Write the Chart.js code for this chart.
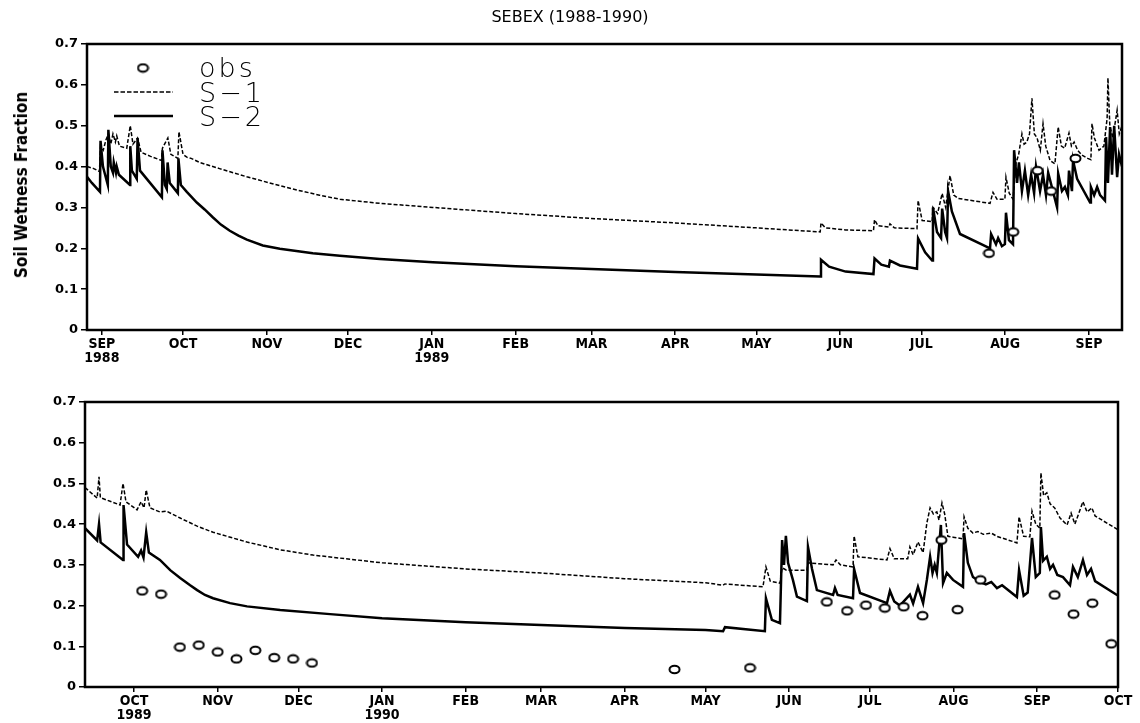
<!DOCTYPE html>
<html>
<head>
<meta charset="utf-8">
<script src="https://cdn.jsdelivr.net/npm/chart.js@4.4.0/dist/chart.umd.min.js"></script>
<style>
  body { margin: 0; background: #fff; }
  #page { position: relative; width: 1140px; height: 723px; overflow: hidden; font-family: "DejaVu Sans", sans-serif; }
  #title { position: absolute; left: 0; top: 7px; width: 1140px; text-align: center; font-size: 16px; color: #000; }
  #ylabel { position: absolute; left: 21px; top: 185px; transform: translate(-50%, -50%) rotate(-90deg);
            font: bold 17px "DejaVu Sans Condensed", "DejaVu Sans", sans-serif; white-space: nowrap; }
  .lg { position: absolute; left: 199px; font: 200 27px "DejaVu Sans", sans-serif; line-height: 27px;
        letter-spacing: 3px; white-space: nowrap; }
  canvas { position: absolute; left: 0; }
</style>
</head>
<body>
<div id="page">
  <canvas id="topChart" width="1140" height="365" style="top:0"></canvas>
  <canvas id="botChart" width="1140" height="358" style="top:365px"></canvas>
  <div id="title">SEBEX (1988-1990)</div>
  <div id="ylabel">Soil Wetness Fraction</div>
  <div class="lg" style="top:54px">obs</div>
  <div class="lg" style="top:79px">S−1</div>
  <div class="lg" style="top:103px">S−2</div>
</div>
<script>
// x values are days counted from 1 Sep 1988
const topTicks = ["1988-09", "1988-10", "1988-11", "1988-12", "1989-01", "1989-02", "1989-03",
  "1989-04", "1989-05", "1989-06", "1989-07", "1989-08", "1989-09"];
const topTickLabels = [["SEP", "1988"], "OCT", "NOV", "DEC", ["JAN", "1989"], "FEB", "MAR",
  "APR", "MAY", "JUN", "JUL", "AUG", "SEP"];
const botTicks = ["1989-10", "1989-11", "1989-12", "1990-01", "1990-02", "1990-03", "1990-04",
  "1990-05", "1990-06", "1990-07", "1990-08", "1990-09", "1990-10"];
const botTickLabels = [["OCT", "1989"], "NOV", "DEC", ["JAN", "1990"], "FEB", "MAR", "APR",
  "MAY", "JUN", "JUL", "AUG", "SEP", "OCT"];

const topObs = [[328, 0.188], [337, 0.24], [346, 0.39], [351, 0.34], [360, 0.42]];

const topS1 = [[-5.5, 0.40], [-3, 0.395], [-0.9, 0.388], [-0.5, 0.45], [0.5, 0.44], [1.5, 0.465],
  [2.4, 0.48], [3.3, 0.455], [4.1, 0.48], [5, 0.46], [5.5, 0.475], [6.5, 0.45], [9.2, 0.445],
  [10.5, 0.50], [11.5, 0.455], [13.2, 0.47], [14.5, 0.435], [18, 0.425], [22, 0.415],
  [22.4, 0.445], [24.4, 0.47], [25.5, 0.43], [28.1, 0.42], [28.5, 0.485], [30, 0.43],
  [31.4, 0.423], [33, 0.42], [36.2, 0.41], [43.5, 0.395], [53.6, 0.375], [62, 0.36],
  [70.6, 0.345], [80.5, 0.33], [88, 0.32], [102.8, 0.31], [122.4, 0.30], [153, 0.285],
  [181, 0.273], [212, 0.262], [242, 0.25], [265.6, 0.24], [265.9, 0.262], [267.5, 0.25],
  [275, 0.245], [285.3, 0.243], [285.7, 0.27], [287, 0.255], [291, 0.252], [291.4, 0.26],
  [293, 0.25], [301.4, 0.248],
  [301.8, 0.317], [303.3, 0.268], [307, 0.265], [307.3, 0.30], [309, 0.285], [310.7, 0.334],
  [312, 0.30], [313.6, 0.378], [315, 0.33], [316.6, 0.322], [328.4, 0.31], [329.5, 0.337],
  [331, 0.32], [333.9, 0.32], [334.3, 0.374], [335.5, 0.335], [336.9, 0.32], [338, 0.408],
  [339, 0.43], [340.2, 0.48], [341, 0.455], [342, 0.46], [343, 0.48], [343.9, 0.567],
  [344.8, 0.48], [345.8, 0.47], [347, 0.44], [348, 0.505], [349, 0.45], [350.6, 0.415],
  [352.4, 0.407], [353.6, 0.497], [354.8, 0.45], [356, 0.445], [357.6, 0.482], [358.5, 0.45],
  [359.5, 0.46], [360.8, 0.44], [362.4, 0.428], [364.5, 0.42], [365.7, 0.417], [366.1, 0.505],
  [367, 0.47], [368.7, 0.44], [370.5, 0.45], [371.7, 0.518], [372, 0.617], [372.7, 0.50],
  [373.8, 0.47], [375.4, 0.538], [376.2, 0.48], [377.2, 0.50]];

const topS2 = [[-5.5, 0.375], [-3.7, 0.36], [-0.7, 0.338], [-0.5, 0.463], [0.4, 0.40],
  [2.2, 0.355], [2.4, 0.49], [3.3, 0.40], [4.1, 0.385], [4.4, 0.41], [5.2, 0.385], [5.5, 0.40],
  [6.3, 0.38], [10.4, 0.355], [10.5, 0.45], [11.1, 0.39], [12.9, 0.37], [13.2, 0.47],
  [14.1, 0.39], [22.2, 0.325], [22.4, 0.44], [23.3, 0.355], [24, 0.345], [24.3, 0.41],
  [25.1, 0.36], [28.1, 0.335], [28.3, 0.42], [29.2, 0.355], [31.4, 0.338], [35.1, 0.312],
  [38, 0.295], [41, 0.276], [44, 0.258], [47.3, 0.243], [50.5, 0.231], [53.6, 0.221],
  [59.5, 0.207], [65.8, 0.199], [78, 0.188], [88, 0.182],
  [102.8, 0.174], [122.4, 0.166], [153, 0.156], [181, 0.149], [212, 0.142],
  [242, 0.136], [265.6, 0.131], [265.9, 0.172], [268.9, 0.155], [275, 0.143], [285.3, 0.137],
  [285.7, 0.175], [288.2, 0.16], [291, 0.155], [291.4, 0.17], [295.1, 0.158], [301.4, 0.15],
  [301.8, 0.224], [304.4, 0.19],
  [307, 0.17], [307.3, 0.30], [308.8, 0.24], [310.3, 0.225], [310.7, 0.297], [311.8, 0.24],
  [312.5, 0.225], [312.9, 0.34], [314.3, 0.29], [317.3, 0.235], [328.4, 0.20], [328.8, 0.235],
  [330.6, 0.21], [331.4, 0.225], [332.8, 0.205], [333.9, 0.21], [334.3, 0.287], [335.4, 0.22],
  [336.9, 0.21], [337.3, 0.44], [338.4, 0.36], [339.1, 0.41], [340.2, 0.34], [341.3, 0.39],
  [342.5, 0.33], [343.6, 0.38], [344.7, 0.335], [345.4, 0.40], [346.9, 0.34], [348, 0.38],
  [349.1, 0.33], [349.9, 0.385], [353.2, 0.30], [353.6, 0.383], [355, 0.34], [356.1, 0.35],
  [357.2, 0.33], [357.6, 0.39], [358.7, 0.34], [359.1, 0.415], [360.6, 0.37], [365.4, 0.312],
  [365.7, 0.35], [366.9, 0.33], [368, 0.35], [369.1, 0.33], [370.9, 0.317], [371.3, 0.472],
  [372, 0.36], [372.8, 0.497], [373.5, 0.38], [374.3, 0.50], [375.4, 0.374], [376.1, 0.43],
  [377.2, 0.40]];

const botObs = [[398, 0.236], [405, 0.228], [412, 0.098], [419, 0.103], [426, 0.086], [433, 0.069],
  [440, 0.09], [447, 0.072], [454, 0.069], [461, 0.059], [595.5, 0.043], [623.5, 0.047],
  [652, 0.209], [659.5, 0.187], [666.5, 0.201], [673.5, 0.194], [680.5, 0.197], [687.5, 0.175],
  [694.5, 0.361], [700.5, 0.19], [709, 0.263], [736.5, 0.226], [743.5, 0.179], [750.5, 0.206],
  [757.5, 0.106]];

const botS1 = [[376.8, 0.49], [381.3, 0.464], [382, 0.516], [382.5, 0.465], [389.8, 0.447],
  [390.9, 0.50], [392, 0.455], [396.1, 0.435], [397.6, 0.455], [398.7, 0.44], [399.5, 0.484],
  [400.9, 0.44], [404.6, 0.43], [407, 0.432], [412.1, 0.415], [418.4, 0.395], [424.3, 0.38],
  [436.9, 0.356], [449.2, 0.337], [461.4, 0.324], [487, 0.305], [518, 0.29], [546, 0.28],
  [577, 0.266], [607, 0.256], [613.5, 0.25], [614.2, 0.253], [628.3, 0.246], [629.4, 0.295],
  [631, 0.26], [634.6, 0.255], [635.4, 0.293], [637, 0.287], [644.6, 0.287], [645, 0.305],
  [654.3, 0.30], [655.4, 0.312], [657, 0.30], [661.7, 0.295], [662.1, 0.371], [663.5, 0.32],
  [674.3, 0.312], [675.4, 0.34], [677, 0.315], [682, 0.315], [682.8, 0.344], [684, 0.325],
  [685.8, 0.356], [687.7, 0.33], [689.1, 0.403], [690.3, 0.44], [691.5, 0.425], [692.8, 0.43],
  [693.6, 0.41], [694.7, 0.452], [695.7, 0.425], [696.9, 0.37], [698.8, 0.368], [702.5, 0.364],
  [702.9, 0.418], [704.3, 0.39], [706.2, 0.378], [708, 0.382], [710, 0.375], [713, 0.378],
  [715.1, 0.37], [722.5, 0.354], [723.3, 0.418], [725, 0.37], [727.3, 0.369], [728.1, 0.432],
  [729.5, 0.40], [731, 0.39], [731.4, 0.526], [732.4, 0.47], [733.6, 0.477], [734.8, 0.45],
  [736.5, 0.44], [738.5, 0.415], [741.1, 0.398], [742.6, 0.427], [744, 0.40], [747, 0.455],
  [748.5, 0.43], [750.3, 0.44], [751.5, 0.42], [759.6, 0.388], [760, 0.386]];

const botS2 = [[376.8, 0.39], [381.3, 0.36], [382, 0.40], [382.6, 0.355], [390.9, 0.312],
  [391.1, 0.447], [392.4, 0.35], [396.5, 0.32], [397.6, 0.335], [398.5, 0.318], [399.5, 0.38],
  [400.5, 0.33], [404.6, 0.312], [408.4, 0.287], [412.1, 0.268], [415.8, 0.25], [418.4, 0.238],
  [421.3, 0.226], [424.3, 0.218], [430.6, 0.206], [436.9, 0.198],
  [449.2, 0.189], [467.7, 0.179], [487, 0.169], [518, 0.159], [546, 0.152], [577, 0.145],
  [607, 0.14], [613.5, 0.137], [614.2, 0.147], [629, 0.137], [629.4, 0.218], [631.6, 0.165],
  [634.6, 0.157], [635.4, 0.361], [636.1, 0.30], [636.8, 0.371], [637.6, 0.305], [639.4, 0.263],
  [640.9, 0.222], [644.6, 0.211], [645, 0.344], [646.5, 0.29], [648.3, 0.238], [654.3, 0.226],
  [655, 0.243], [656, 0.226], [661.7, 0.218], [662.1, 0.29], [664.3, 0.231], [674.3, 0.206],
  [675.4, 0.236], [677, 0.21], [679.1, 0.20], [682.8, 0.227], [684, 0.205], [685.8, 0.246],
  [687.7, 0.206], [689.1, 0.263], [690.3, 0.32], [691.2, 0.28], [692, 0.30], [692.8, 0.28],
  [694.3, 0.398], [695.1, 0.255], [696.5, 0.28], [698.8, 0.263], [702.5, 0.246], [702.9, 0.378],
  [704.3, 0.305], [706.2, 0.27], [708.8, 0.258], [711, 0.252], [713, 0.258], [715.1, 0.243],
  [717, 0.25], [722.5, 0.221], [723.3, 0.287], [725, 0.224], [726.5, 0.232], [728.1, 0.366],
  [729.5, 0.27], [731, 0.28], [731.4, 0.393], [732.2, 0.31], [733.6, 0.32], [734.8, 0.29],
  [735.9, 0.30], [737.5, 0.275], [739.6, 0.27], [742.2, 0.25], [743.3, 0.295], [745.1, 0.27],
  [747, 0.312], [748.5, 0.275], [750, 0.29], [751.5, 0.26], [759.6, 0.226], [760, 0.225]];

const EPOCH = Date.UTC(1988, 8, 1);
function dayOf(ym) {
  const [y, m] = ym.split("-").map(Number);
  return (Date.UTC(y, m - 1, 1) - EPOCH) / 864e5;
}
const xy = pairs => pairs.map(([x, y]) => ({ x, y }));

// open ellipse used for the observations
const obsMark = document.createElement("canvas");
obsMark.width = 13;
obsMark.height = 11;
{
  const c = obsMark.getContext("2d");
  c.beginPath();
  c.ellipse(6.5, 5.5, 5, 3.8, 0, 0, Math.PI * 2);
  c.fillStyle = "#fff";
  c.fill();
  c.lineWidth = 2;
  c.strokeStyle = "#000";
  c.stroke();
}

const frame = {
  id: "frame",
  afterDraw(chart) {
    const { ctx, chartArea: a } = chart;
    ctx.save();
    ctx.lineWidth = 2.5;
    ctx.strokeStyle = "#000";
    ctx.strokeRect(a.left, a.top, a.right - a.left, a.bottom - a.top);
    ctx.restore();
  },
};

const legendMarks = {
  id: "legendMarks",
  afterDraw(chart) {
    const ctx = chart.ctx;
    ctx.save();
    ctx.drawImage(obsMark, 143 - 6.5, 68 - 5.5);
    ctx.strokeStyle = "#000";
    ctx.lineWidth = 1.5;
    ctx.setLineDash([4.5, 2]);
    ctx.beginPath();
    ctx.moveTo(114, 92);
    ctx.lineTo(173, 92);
    ctx.stroke();
    ctx.setLineDash([]);
    ctx.lineWidth = 2.5;
    ctx.beginPath();
    ctx.moveTo(114, 116);
    ctx.lineTo(173, 116);
    ctx.stroke();
    ctx.restore();
  },
};

function makePanel(canvasId, { obs, s1, s2, ticks, tickLabels, min, max, padding, yWidth, xHeight, plugins }) {
  const tickDays = ticks.map(dayOf);
  return new Chart(document.getElementById(canvasId), {
    type: "line",
    data: {
      datasets: [
        { label: "obs", data: xy(obs), showLine: false, pointStyle: obsMark, pointRadius: 5, order: 0 },
        { label: "S-1", data: xy(s1), borderColor: "#000", borderWidth: 1.5, borderDash: [4, 2],
          pointRadius: 0, order: 1 },
        { label: "S-2", data: xy(s2), borderColor: "#000", borderWidth: 2.5, pointRadius: 0, order: 2 },
      ],
    },
    options: {
      responsive: false,
      animation: false,
      events: [],
      layout: { padding },
      plugins: { legend: { display: false }, tooltip: { enabled: false } },
      scales: {
        x: {
          type: "linear",
          min,
          max,
          afterBuildTicks: s => { s.ticks = tickDays.map(value => ({ value })); },
          afterFit: s => { s.height = xHeight; },
          border: { display: false },
          grid: { drawOnChartArea: false, color: "#000", lineWidth: 1.5, tickLength: 5 },
          ticks: {
            autoSkip: false,
            maxRotation: 0,
            padding: 2,
            color: "#000",
            font: { family: "'DejaVu Sans Condensed', 'DejaVu Sans'", weight: "bold", size: 14, lineHeight: 1 },
            callback: (v, i) => tickLabels[i],
          },
        },
        y: {
          min: 0,
          max: 0.7,
          afterFit: s => { s.width = yWidth; },
          border: { display: false },
          grid: { drawOnChartArea: false, color: "#000", lineWidth: 1.5, tickLength: 6 },
          ticks: {
            stepSize: 0.1,
            padding: 3,
            color: "#000",
            font: { family: "'DejaVu Sans'", weight: "bold", size: 13 },
            callback: v => (v === 0 ? "0" : v.toFixed(1)),
          },
        },
      },
    },
    plugins,
  });
}

makePanel("topChart", {
  obs: topObs, s1: topS1, s2: topS2, ticks: topTicks, tickLabels: topTickLabels,
  min: -5.5, max: 377.2, padding: { top: 44, right: 18, left: 0, bottom: 0 },
  yWidth: 87, xHeight: 35, plugins: [frame, legendMarks],
});

makePanel("botChart", {
  obs: botObs, s1: botS1, s2: botS2, ticks: botTicks, tickLabels: botTickLabels,
  min: 376.8, max: 760, padding: { top: 37, right: 22, left: 0, bottom: 0 },
  yWidth: 85, xHeight: 36, plugins: [frame],
});
</script>
</body>
</html>
